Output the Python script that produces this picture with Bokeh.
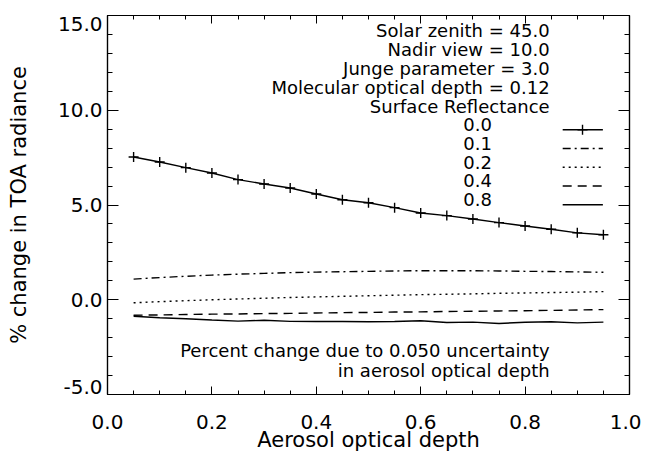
from bokeh.plotting import figure
from bokeh.models import (Range1d, LinearAxis, SingleIntervalTicker, FixedTicker,
                          PrintfTickFormatter, CustomJSTickFormatter)
from bokeh.core.properties import value
from bokeh.embed import file_html
from bokeh.resources import INLINE

# ---- data ----
aod = [0.05, 0.10, 0.15, 0.20, 0.25, 0.30, 0.35, 0.40, 0.45, 0.50,
       0.55, 0.60, 0.65, 0.70, 0.75, 0.80, 0.85, 0.90, 0.95]
refl_00 = [7.53, 7.27, 6.97, 6.69, 6.34, 6.11, 5.90, 5.58, 5.28, 5.12,
           4.86, 4.58, 4.44, 4.26, 4.07, 3.89, 3.72, 3.53, 3.43]
refl_01 = [1.09, 1.17, 1.24, 1.30, 1.35, 1.39, 1.43, 1.46, 1.48, 1.50,
           1.52, 1.53, 1.53, 1.53, 1.52, 1.50, 1.49, 1.47, 1.45]
refl_02 = [-0.16, -0.10, -0.05, 0.00, 0.04, 0.08, 0.12, 0.15, 0.18, 0.21,
           0.24, 0.27, 0.29, 0.31, 0.34, 0.36, 0.38, 0.40, 0.43]
refl_04 = [-0.82, -0.80, -0.78, -0.76, -0.75, -0.73, -0.72, -0.70, -0.68, -0.67,
           -0.65, -0.64, -0.62, -0.61, -0.59, -0.58, -0.56, -0.54, -0.52]
refl_08 = [-0.87, -0.95, -1.00, -1.07, -1.13, -1.08, -1.14, -1.15, -1.15, -1.16,
           -1.15, -1.11, -1.20, -1.18, -1.25, -1.19, -1.16, -1.22, -1.18]
refl_labels = ["0.0", "0.1", "0.2", "0.4", "0.8"]
series = [refl_00, refl_01, refl_02, refl_04, refl_08]
dashes = ["solid", "8 4 2 4", "2 4", "9 6", "solid"]
info_lines = ["Solar zenith = 45.0", "Nadir view = 10.0", "Junge parameter = 3.0",
              "Molecular optical depth = 0.12", "Surface Reflectance"]
note_lines = ["Percent change due to 0.050 uncertainty", "in aerosol optical depth"]
y_min, y_max, y_step = -5.0, 15.0, 5.0

FONT = "DejaVu Sans"
INK = "black"
TICK_FS = "20px"
FRAME_H = 379

p = figure(output_backend="svg", toolbar_location=None,
           frame_width=522, frame_height=FRAME_H,
           min_border_left=107, min_border_right=12, min_border_top=15, min_border_bottom=56,
           x_range=Range1d(0, 1), y_range=Range1d(y_min, y_max))
p.grid.visible = False
p.outline_line_color = INK
p.outline_line_width = 1.2
p.background_fill_color = "white"
p.border_fill_color = "white"

def style(ax, major_in, minor_in):
    ax.major_tick_in = major_in
    ax.major_tick_out = 0
    ax.minor_tick_in = minor_in
    ax.minor_tick_out = 0
    ax.axis_line_color = INK
    ax.axis_line_width = 1.2
    ax.major_tick_line_color = INK
    ax.minor_tick_line_color = INK
    ax.major_tick_line_width = 1
    ax.minor_tick_line_width = 1

blank = CustomJSTickFormatter(code="return ''")

# bottom axis
xa = p.xaxis[0]
xa.ticker = SingleIntervalTicker(interval=0.2, num_minor_ticks=4)
xa.formatter = PrintfTickFormatter(format="%.1f")
style(xa, 8, 4)
xa.major_label_text_font = FONT
xa.major_label_text_font_size = TICK_FS
xa.major_label_text_color = INK
xa.major_label_standoff = 20
xa.axis_label = "Aerosol optical depth"
xa.axis_label_text_font = FONT
xa.axis_label_text_font_size = "21px"
xa.axis_label_text_font_style = "normal"
xa.axis_label_text_color = INK
xa.axis_label_standoff = -4

# left axis: ticks only (innermost)
ya = p.yaxis[0]
ya.ticker = SingleIntervalTicker(interval=y_step, num_minor_ticks=5)
ya.formatter = blank
ya.major_label_text_font_size = "0px"
ya.major_label_standoff = 0
style(ya, 11, 5)

# left axis: labels (end labels nudged inward as in the reference)
nudge = 8 * (y_max - y_min) / FRAME_H
label_ticks = [y_min + nudge] + [y_min + y_step * k for k in range(1, 4)] + [y_max - nudge]
yl = LinearAxis(ticker=FixedTicker(ticks=label_ticks, minor_ticks=[]),
                formatter=CustomJSTickFormatter(
                    args=dict(step=y_step),
                    code="return (Math.round(tick / step) * step).toFixed(1);"))
yl.axis_line_color = None
yl.major_tick_line_color = None
yl.minor_tick_line_color = None
yl.major_tick_in = 0
yl.major_tick_out = 0
yl.minor_tick_in = 0
yl.minor_tick_out = 0
yl.major_label_text_font = FONT
yl.major_label_text_font_size = TICK_FS
yl.major_label_text_color = INK
yl.major_label_standoff = 5
yl.axis_label = "% change in TOA radiance"
yl.axis_label_text_font = FONT
yl.axis_label_text_font_size = "21px"
yl.axis_label_text_font_style = "normal"
yl.axis_label_text_color = INK
yl.axis_label_standoff = 24
p.add_layout(yl, "left")

top = LinearAxis(ticker=SingleIntervalTicker(interval=0.2, num_minor_ticks=4), formatter=blank,
                 major_label_text_font_size="0px", major_label_standoff=0)
style(top, 8, 4)
p.add_layout(top, "above")
right = LinearAxis(ticker=SingleIntervalTicker(interval=y_step, num_minor_ticks=5), formatter=blank,
                   major_label_text_font_size="0px", major_label_standoff=0)
style(right, 11, 5)
p.add_layout(right, "right")

# ---- data lines ----
for vals, dash in zip(series, dashes):
    p.line(aod, vals, line_color=INK, line_width=1.4, line_dash=dash)
p.scatter(aod, refl_00, marker="cross", size=10, line_color=INK, line_width=1.4)

# ---- annotation text ----
text_right = 0.847
TXT_FS = "18px"
info_y = [14.21 - i * 1.0 for i in range(len(info_lines))]
p.text(x=[text_right] * len(info_lines), y=info_y, text=info_lines,
       text_align="right", text_baseline="middle", text_font=value(FONT),
       text_font_size=TXT_FS, text_color=INK)

# legend
row_line_y = [8.97 - i * 0.99 for i in range(len(refl_labels))]
p.text(x=[0.709] * len(refl_labels), y=[v + 0.27 for v in row_line_y], text=refl_labels,
       text_align="center", text_baseline="middle", text_font=value(FONT),
       text_font_size=TXT_FS, text_color=INK)
for yy, dash in zip(row_line_y, dashes):
    p.line([0.872, 0.949], [yy, yy], line_color=INK, line_width=1.4, line_dash=dash)
p.scatter([0.910], [row_line_y[0]], marker="cross", size=10, line_color=INK, line_width=1.4)

note_y = [-2.70, -3.71]
p.text(x=[text_right] * 2, y=note_y, text=note_lines,
       text_align="right", text_baseline="middle", text_font=value(FONT),
       text_font_size=TXT_FS, text_color=INK)

open("out.html", "w").write(file_html(p, INLINE))
